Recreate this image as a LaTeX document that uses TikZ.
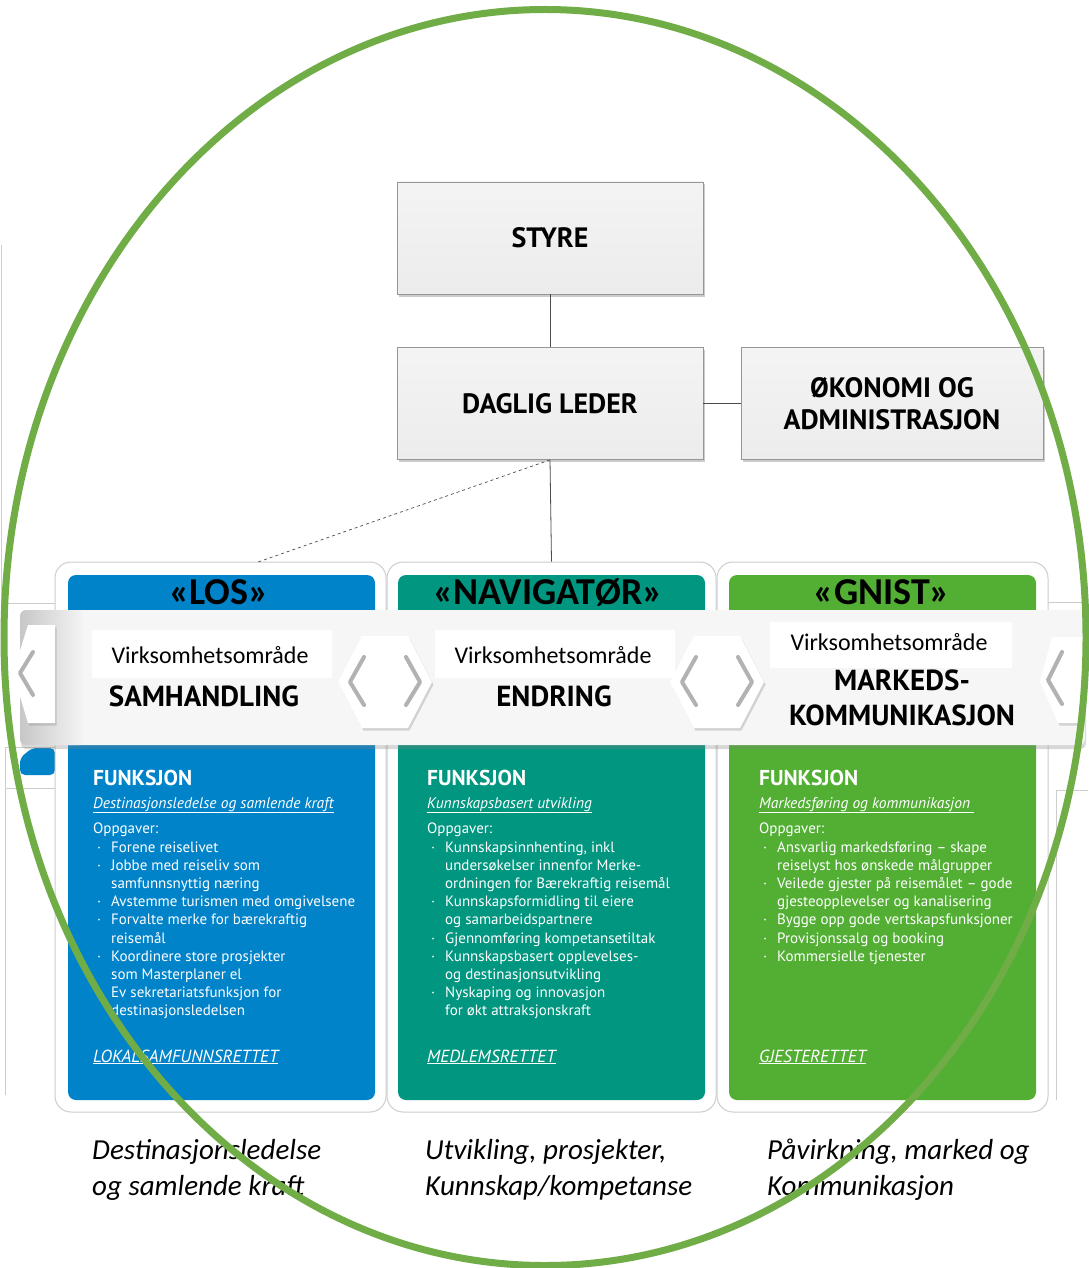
\documentclass[tikz,border=0pt]{standalone}
\usepackage{fontspec}
\setmainfont{Carlito}
\newfontfamily\din{PT Sans}
\usetikzlibrary{shadows}
\definecolor{losblue}{RGB}{0,131,201}
\definecolor{navteal}{RGB}{0,150,128}
\definecolor{gnistgreen}{RGB}{82,175,52}
\definecolor{ringgreen}{RGB}{112,173,71}
\definecolor{boxgray}{RGB}{236,236,236}
\definecolor{boxline}{RGB}{150,150,150}
\definecolor{framegray}{RGB}{205,205,205}
\definecolor{chev}{RGB}{178,178,178}
\definecolor{bandgray}{RGB}{246,246,246}
\newcommand\bul{\makebox[18pt][l]{\hspace{4pt}·}}
\newcommand\ind{\hspace*{18pt}}
\tikzset{
  orgbox/.style={draw=boxline, line width=0.7pt, top color=boxgray!60, bottom color=boxgray, minimum width=306pt, minimum height=112pt, inner sep=0pt, align=center, font=\din\bfseries\fontsize{28}{32}\selectfont, drop shadow={shadow xshift=2pt, shadow yshift=-2.5pt, opacity=0.4}},
  cardframe/.style={draw=framegray, line width=1pt, fill=white, rounded corners=16pt, inner sep=0pt},
  headtxt/.style={font=\bfseries\fontsize{38}{40}\selectfont, text=black, inner sep=0pt, anchor=base},
  virk/.style={font=\fontsize{24}{26}\selectfont, anchor=base, inner sep=0pt},
  areatxt/.style={font=\din\bfseries\fontsize{29}{35}\selectfont, inner sep=0pt, align=center},
  funk/.style={font=\din\bfseries\fontsize{21.5}{23}\selectfont, text=white, anchor=base west, inner sep=0pt},
  subt/.style={font=\din\itshape\fontsize{15.5}{17}\selectfont, text=white, anchor=base west, inner sep=0pt},
  foot/.style={font=\din\itshape\fontsize{17.5}{19}\selectfont, text=white, anchor=base west, inner sep=0pt},
  coltext/.style={font=\din\fontsize{15}{18.2}\selectfont, text=white, anchor=north west, inner sep=0pt, align=left},
  bottomtext/.style={font=\itshape\fontsize{29}{36}\selectfont, anchor=base west, inner sep=0pt},
  labelbox/.style={fill=white, draw=none},
  hexa/.style={fill=white, draw=none, drop shadow={shadow xshift=1.5pt, shadow yshift=-2.5pt, opacity=0.3}},
  chevron/.style={draw=chev, line width=4pt, line cap=round, line join=round},
  fragment/.style={draw=framegray, line width=0.8pt},
  connector/.style={draw=black!70, line width=0.8pt},
}
\begin{document}
\begin{tikzpicture}[x=1pt,y=-1pt]
\useasboundingbox (0,0) rectangle (1088,1268);
\fill[white] (0,0) rectangle (1088,1268);

% fragments of neighbouring cards
\draw[fragment] (1,245) -- (1,603) -- (55,603);
\draw[fragment] (55,747) -- (5,747) -- (5,1095);
\draw[fragment] (5,788) -- (55,788);
\fill[losblue, rounded corners=5pt] (20,775) -- (20,758) -- (32,748) -- (55,748) -- (55,775) -- cycle;
\draw[fragment] (1048,602) -- (1088,602);
\draw[fragment] (1088,790) -- (1056,790) -- (1056,1100);

% card frames
\node[cardframe, minimum width=331pt, minimum height=550pt] (losF) at (220.5,837) {};
\node[cardframe, minimum width=329pt, minimum height=550pt] (navF) at (551.5,837) {};
\node[cardframe, minimum width=331pt, minimum height=550pt] (gnF) at (882.5,837) {};
\fill[losblue, rounded corners=8pt] (68,575) rectangle (375,1100);
\fill[navteal, rounded corners=8pt] (398,575) rectangle (705,1100);
\fill[gnistgreen, rounded corners=8pt] (729,575) rectangle (1036,1100);

% headers
\node[headtxt] (losH) at (219,604) {«LOS»};
\node[headtxt] (navH) at (548,604) {«NAVIGATØR»};
\node[headtxt] (gnH) at (882,604) {«GNIST»};

% org boxes
\node[orgbox] (styre) at (550,238) {STYRE};
\node[orgbox] (daglig) at (550,403.5) {DAGLIG LEDER};
\node[orgbox, minimum width=302pt] (okon) at (892,403.5) {ØKONOMI OG\\ADMINISTRASJON};
\coordinate (dashEnd) at (258,562);
\draw[connector] (styre.south) -- (daglig.north);
\draw[connector] (daglig.east) -- (okon.west);
\draw[connector] (daglig.south) -- (navF.north);
\draw[connector, dashed, line width=0.7pt] (daglig.south) -- (dashEnd);

% band
\path[fill=bandgray, rounded corners=6pt, drop shadow={shadow xshift=1pt, shadow yshift=-4pt, opacity=0.3}] (20,610) rectangle (1085,745);
\shade[left color=black!22, right color=bandgray, rounded corners=6pt] (20,610) rectangle (85,745);

% chevron pieces
\path[hexa] (55,625) -- (28,625) -- (13,673) -- (28,723) -- (55,723) -- cycle;
\draw[chevron] (33,652) -- (20,673) -- (33,695);
\path[hexa] (338,682) -- (362,636) -- (408,636) -- (432,682) -- (408,728) -- (362,728) -- cycle;
\draw[chevron] (364,657) -- (350,682) -- (364,705);
\draw[chevron] (406,657) -- (420,682) -- (406,705);
\path[hexa] (670,682) -- (694,636) -- (740,636) -- (764,682) -- (740,728) -- (694,728) -- cycle;
\draw[chevron] (696,657) -- (682,682) -- (696,705);
\draw[chevron] (738,657) -- (752,682) -- (738,705);
\path[hexa] (1052,637) -- (1083,637) -- (1083,723) -- (1058,723) -- (1040,682) -- cycle;
\draw[chevron] (1062,652) -- (1048,680) -- (1062,704);

% label boxes
\fill[labelbox] (92,630) rectangle (332,678);
\fill[labelbox] (435,630) rectangle (675,678);
\fill[labelbox] (770,622) rectangle (1012,668);
\node[virk] (losV) at (210,663) {Virksomhetsområde};
\node[virk] (navV) at (553,663) {Virksomhetsområde};
\node[virk] (gnV) at (889,650) {Virksomhetsområde};
\node[areatxt, anchor=base] (losA) at (204,706) {SAMHANDLING};
\node[areatxt, anchor=base] (navA) at (554,706) {ENDRING};
\node[areatxt] (gnA) at (902,697.5) {MARKEDS-\\KOMMUNIKASJON};

% column texts
\node[funk] (losFk) at (93,785) {FUNKSJON};
\node[funk] (navFk) at (427,785) {FUNKSJON};
\node[funk] (gnFk) at (759,785) {FUNKSJON};
\node[subt] (losS) at (93,808) {\underline{Destinasjonsledelse og samlende kraft}};
\node[subt] (navS) at (427,808) {\underline{Kunnskapsbasert utvikling}};
\node[subt] (gnS) at (759,808) {\underline{Markedsføring og kommunikasjon\ }};
\node[coltext] (losL) at (93,823) {Oppgaver:\\
\bul Forene reiselivet\\
\bul Jobbe med reiseliv som\\
\ind samfunnsnyttig næring\\
\bul Avstemme turismen med omgivelsene\\
\bul Forvalte merke for bærekraftig\\
\ind reisemål\\
\bul Koordinere store prosjekter\\
\ind som Masterplaner el\\
\ind Ev sekretariatsfunksjon for\\
\ind destinasjonsledelsen};
\node[coltext] (navL) at (427,823) {Oppgaver:\\
\bul Kunnskapsinnhenting, inkl\\
\ind undersøkelser innenfor Merke-\\
\ind ordningen for Bærekraftig reisemål\\
\bul Kunnskapsformidling til eiere\\
\ind og samarbeidspartnere\\
\bul Gjennomføring kompetansetiltak\\
\bul Kunnskapsbasert opplevelses-\\
\ind og destinasjonsutvikling\\
\bul Nyskaping og innovasjon\\
\ind for økt attraksjonskraft};
\node[coltext] (gnL) at (759,823) {Oppgaver:\\
\bul Ansvarlig markedsføring – skape\\
\ind reiselyst hos ønskede målgrupper\\
\bul Veilede gjester på reisemålet – gode\\
\ind gjesteopplevelser og kanalisering\\
\bul Bygge opp gode vertskapsfunksjoner\\
\bul Provisjonssalg og booking\\
\bul Kommersielle tjenester};
\node[foot] (losR) at (93,1062) {\underline{LOKALSAMFUNNSRETTET}};
\node[foot] (navR) at (427,1062) {\underline{MEDLEMSRETTET}};
\node[foot] (gnR) at (759,1062) {\underline{GJESTERETTET}};

% bottom texts
\node[bottomtext] (losB1) at (92,1159) {Destinasjonsledelse};
\node[bottomtext] (losB2) at (92,1195) {og samlende kraft};
\node[bottomtext] (navB1) at (425,1159) {Utvikling, prosjekter,};
\node[bottomtext] (navB2) at (425,1195) {Kunnskap/kompetanse};
\node[bottomtext] (gnB1) at (767,1159) {Påvirkning, marked og};
\node[bottomtext] (gnB2) at (767,1195) {Kommunikasjon};

% green ring
\draw[ringgreen, line width=7pt] (545,637.5) ellipse [x radius=541pt, y radius=628pt];
\end{tikzpicture}
\end{document}
